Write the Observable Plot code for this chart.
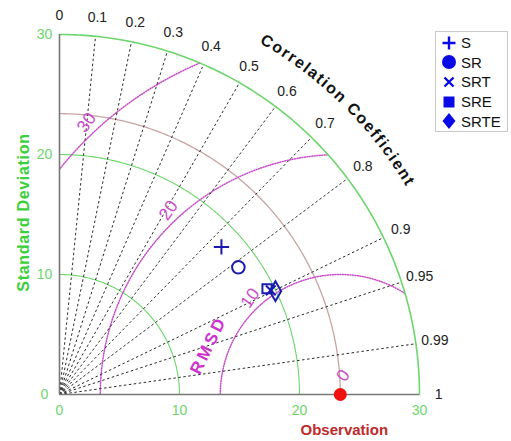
<!DOCTYPE html>
<html>
<head>
<meta charset="utf-8">
<script src="https://cdn.jsdelivr.net/npm/d3@7"></script>
<script src="https://cdn.jsdelivr.net/npm/@observablehq/plot@0.6"></script>
<style>
  body { margin: 0; background: #fff; font-family: "Liberation Sans", Arial, sans-serif; }
  #wrap { position: relative; width: 511px; height: 441px; }
  #legend { position: absolute; left: 435px; top: 31px; width: 73px; height: 101px; border: 1px solid #c8c8c8; background: #fff; box-sizing: border-box; padding-top: 1px; }
  .li { display: flex; align-items: center; height: 19.6px; font-size: 15px; color: #111; }
  .li svg { margin-left: 4px; margin-right: 3px; }
</style>
</head>
<body>
<div id="wrap"><div id="chart"></div><div id="legend"></div></div>
<script>
// ---- data ----
const corrTicks = [0, 0.1, 0.2, 0.3, 0.4, 0.5, 0.6, 0.7, 0.8, 0.9, 0.95, 0.99, 1];
const stdTicks = [0, 10, 20, 30];
const rmsdTicks = [10, 20, 30];
const refStd = 23.4;
const modelNames = ["S", "SR", "SRT", "SRE", "SRTE"];
const modelStd = [18.26, 18.29, 19.63, 19.41, 19.95];
const modelCorr = [0.739, 0.815, 0.897, 0.891, 0.902];
const modelSymbols = ["plus", "circle", "times", "square", "diamond"];

// ---- style ----
const green = "#6cd66c";
const magenta = "#c94cc9";
const blue = "#1a1ab0";
const symbolR = {plus: 5, circle: 6.3, times: 4.5, square: 5.2, diamond: 6};

// ---- derived geometry ----
const maxStd = 30;
const models = modelNames.map((n, i) => ({
  name: n,
  sym: modelSymbols[i],
  x: modelStd[i] * modelCorr[i],
  y: modelStd[i] * Math.sqrt(1 - modelCorr[i] ** 2)
}));
function stdArc(r) {
  return d3.range(0, 90.5, 0.5).map(a => ({r, x: r * Math.cos(a * Math.PI / 180), y: r * Math.sin(a * Math.PI / 180)}));
}
function rmsdArc(R) {
  return d3.range(0, 180.25, 0.25).map(a => ({R, x: refStd + R * Math.cos(a * Math.PI / 180), y: R * Math.sin(a * Math.PI / 180)}))
    .filter(p => p.x >= 0 && p.x * p.x + p.y * p.y <= maxStd * maxStd + 1e-9);
}
const innerArcs = stdTicks.filter(s => s > 0 && s < maxStd).flatMap(stdArc);
const outerArc = stdArc(maxStd);
const refArc = stdArc(refStd);
const rmsdArcs = rmsdTicks.flatMap(rmsdArc);
const rays = corrTicks.filter(c => c > 0 && c < 1);
const labAng = 133 * Math.PI / 180;
const rmsdLabAng = 160.6 * Math.PI / 180;

const plot = Plot.plot({
  width: 511, height: 441,
  marginLeft: 59, marginRight: 92, marginTop: 34, marginBottom: 47,
  x: {domain: [0, 30], axis: null},
  y: {domain: [0, 30], axis: null},
  r: {type: "identity"},
  symbol: {domain: modelNames, range: modelSymbols},
  style: {fontFamily: "'Liberation Sans', Arial, sans-serif", overflow: "visible"},
  marks: [
    Plot.line(innerArcs, {x: "x", y: "y", z: "r", stroke: green, strokeWidth: 1.1}),
    Plot.line(refArc, {x: "x", y: "y", stroke: "#c9a3a3", strokeWidth: 1.3}),
    Plot.line(rmsdArcs, {x: "x", y: "y", z: "R", stroke: magenta, strokeWidth: 1.5, strokeDasharray: "1,1.5"}),
    Plot.link(rays, {x1: 0, y1: 0, x2: c => maxStd * c, y2: c => maxStd * Math.sqrt(1 - c * c), stroke: "#2a2a2a", strokeWidth: 1, strokeDasharray: "2.5,2.5"}),
    Plot.line(outerArc, {x: "x", y: "y", stroke: green, strokeWidth: 1.6}),
    Plot.ruleX([0], {y1: 0, y2: maxStd, stroke: "#777", strokeWidth: 1.6}),
    Plot.ruleY([0], {x1: 0, x2: maxStd, stroke: "#777", strokeWidth: 1.6}),
    // std tick labels
    Plot.text(stdTicks, {x: 0, y: d => d, text: d => String(d), dx: -15, fill: green, fontSize: 14, textAnchor: "middle"}),
    Plot.text(stdTicks, {x: d => d, y: 0, text: d => String(d), dy: 16, fill: green, fontSize: 14}),
    // correlation tick labels
    Plot.text(corrTicks, {x: c => 31.6 * c, y: c => 31.6 * Math.sqrt(1 - c * c), text: c => String(c), fill: "#222", fontSize: 14}),
    // rmsd labels
    Plot.text(rmsdTicks, {x: d => refStd + (d + 1) * Math.cos(labAng), y: d => (d + 1) * Math.sin(labAng), text: d => String(d), rotate: -55, fill: magenta, fontSize: 17.5}),
    Plot.text([0], {x: refStd, y: 0, text: d => String(d), dx: 3, dy: -19, rotate: -55, fill: magenta, fontSize: 17.5}),
    Plot.text(["RMSD"], {x: refStd + 11.8 * Math.cos(rmsdLabAng), y: 11.8 * Math.sin(rmsdLabAng), text: d => d, dx: 1, dy: -1, rotate: -64, fill: "#cc33cc", fontSize: 17, fontWeight: "bold"}),
    // models
    Plot.dot(models, {x: "x", y: "y", symbol: "name", r: d => symbolR[d.sym], stroke: blue, strokeWidth: 2, fill: "none"}),
    // observation
    Plot.dot([refStd], {x: d => d, y: 0, r: 6.5, fill: "#f01010"}),
    Plot.text(["Observation"], {x: refStd, y: 0, text: d => d, dx: 4, dy: 36, fill: "#c0292b", fontSize: 15, fontWeight: "bold"}),
    Plot.text(["Standard Deviation"], {frameAnchor: "left", text: d => d, dx: -36, dy: -2, rotate: -90, textAnchor: "middle", fill: "#3ccf3c", fontSize: 16, fontWeight: "bold"})
  ]
});
document.getElementById("chart").appendChild(plot);

// letter spacing for the two spaced labels
const svg = d3.select(plot);
svg.selectAll("text").filter(function () { return this.textContent === "RMSD"; })
  .attr("letter-spacing", 3).attr("dx", 1.5);
svg.selectAll("text").filter(function () { return this.textContent === "Standard Deviation"; })
  .attr("letter-spacing", 0.7);

// curved "Correlation Coefficient" title, one glyph at a time along the arc
const title = "Correlation Coefficient";
const titleFont = "bold 16px 'Liberation Sans', Arial, sans-serif";
const spacing = 1.6;
const ctx = document.createElement("canvas").getContext("2d");
ctx.font = titleFont;
const widths = Array.from(title).map(ch => ctx.measureText(ch).width);
const xs = plot.scale("x"), ys = plot.scale("y");
const cx = xs.apply(0), cy = ys.apply(0), R = xs.apply(33.7) - cx;
const total = d3.sum(widths) + spacing * (widths.length - 1);
const mid = 45.6 * Math.PI / 180;
const start = mid + (total / 2) / R;
let acc = 0;
const g = svg.append("g").attr("fill", "#111").attr("font-size", 16).attr("font-weight", "bold")
  .attr("font-family", "'Liberation Sans', Arial, sans-serif").attr("text-anchor", "middle");
Array.from(title).forEach((ch, i) => {
  const s = acc + widths[i] / 2;
  acc += widths[i] + spacing;
  if (ch === " ") return;
  const a = start - s / R;
  const px = cx + R * Math.cos(a), py = cy - R * Math.sin(a);
  g.append("text").attr("transform", `translate(${px},${py}) rotate(${90 - a * 180 / Math.PI})`).text(ch);
});

// legend
const legend = d3.select("#legend");
const legendShapes = {
  plus: "M-6.5,0H6.5M0,-6.5V6.5",
  times: "M-4.5,-4.5L4.5,4.5M4.5,-4.5L-4.5,4.5",
  square: "M-5.5,-5.5H5.5V5.5H-5.5Z",
  diamond: "M0,-8L6.5,0L0,8L-6.5,0Z"
};
modelNames.forEach((n, i) => {
  const row = legend.append("div").attr("class", "li");
  const s = row.append("svg").attr("width", 18).attr("height", 18);
  const k = modelSymbols[i];
  const stroked = k === "plus" || k === "times";
  const el = k === "circle"
    ? s.append("circle").attr("cx", 9).attr("cy", 9).attr("r", 7)
    : s.append("path").attr("transform", "translate(9,9)").attr("d", legendShapes[k]);
  el.attr("fill", stroked ? "none" : "#0a0ae6").attr("stroke", stroked ? "#0a0ae6" : "none").attr("stroke-width", 2.4);
  row.append("span").text(n);
});
</script>
</body>
</html>
